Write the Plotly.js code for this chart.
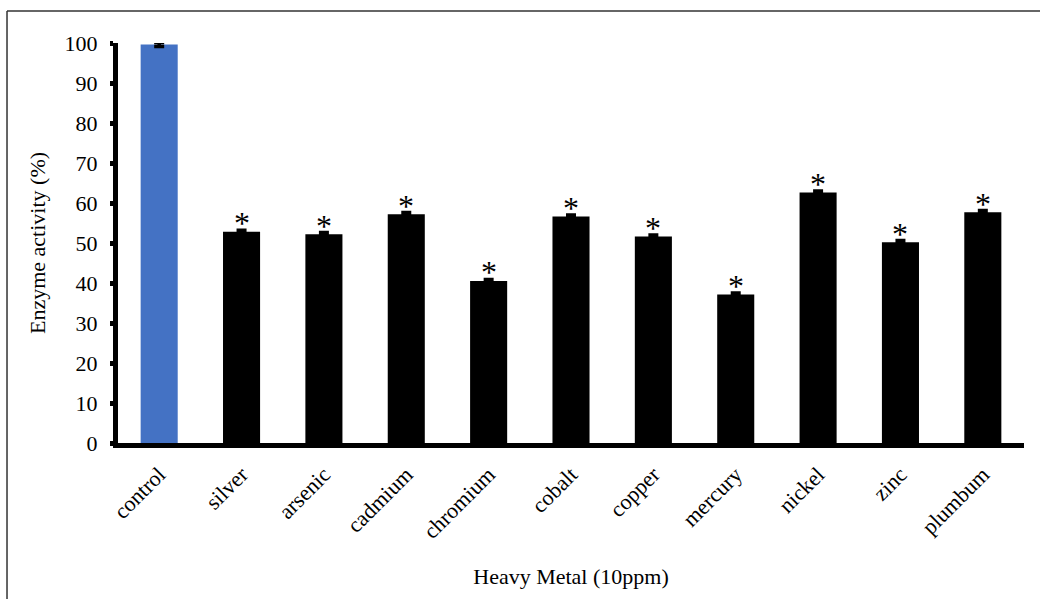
<!DOCTYPE html>
<html>
<head>
<meta charset="utf-8">
<script src="https://cdn.plot.ly/plotly-3.0.1.min.js"></script>
<style>html,body{margin:0;padding:0;background:#fff;}#chart{width:1040px;height:599px;}</style>
</head>
<body>
<div id="chart"></div>
<script>
const categories = ["control","silver","arsenic","cadmium","chromium","cobalt","copper","mercury","nickel","zinc","plumbum"];
const activity = [99.6, 52.8, 52.2, 57.2, 40.5, 56.6, 51.6, 37.1, 62.6, 50.2, 57.7];
const errors = [0.5, 0.4, 0.4, 0.4, 0.4, 0.4, 0.4, 0.4, 0.4, 0.4, 0.4];
const significant = ["", "*", "*", "*", "*", "*", "*", "*", "*", "*", "*"];
const yTicks = [0,10,20,30,40,50,60,70,80,90,100];

const barColors = categories.map((c,i) => i === 0 ? "#4472C4" : "#000000");
const font = "Liberation Serif, Times New Roman, serif";

const bars = {
  type: "bar",
  x: categories,
  y: activity,
  marker: {color: barColors, line: {width: 0}},
  error_y: {type: "data", array: errors, visible: true, color: "#000", thickness: 3.5, width: 5},
  cliponaxis: false,
  hoverinfo: "x+y"
};

const annotations = categories.map((c,i) => ({
  x: c, y: activity[i] + errors[i], xref: "x", yref: "y",
  text: significant[i], showarrow: false,
  font: {family: font, size: 32, color: "#000"},
  yanchor: "bottom", yshift: -13
})).filter(a => a.text !== "");

const layout = {
  width: 1040, height: 599,
  margin: {l: 118, r: 16, t: 43, b: 156},
  paper_bgcolor: "#fff", plot_bgcolor: "#fff",
  bargap: 0.55,
  showlegend: false,
  font: {family: font, color: "#000", size: 22},
  xaxis: {
    tickangle: -45,
    tickfont: {family: font, size: 22, color: "#000"},
    showline: true, linecolor: "#000", linewidth: 5,
    ticks: "", showgrid: false, zeroline: false,
    ticklabelstandoff: 5,
    title: {text: "Heavy Metal (10ppm)", font: {family: font, size: 22, color: "#000"}, standoff: 27}
  },
  yaxis: {
    range: [0, 100],
    tickvals: yTicks,
    tickfont: {family: font, size: 22, color: "#000"},
    showline: true, linecolor: "#000", linewidth: 5,
    ticks: "outside", ticklen: 3, tickwidth: 5, tickcolor: "#000",
    ticklabelstandoff: 8,
    showgrid: false, zeroline: false,
    title: {text: "Enzyme activity (%)", font: {family: font, size: 22, color: "#000"}, standoff: 14}
  },
  annotations: annotations,
  shapes: [
    {type: "line", xref: "paper", yref: "paper", x0: -0.1225, x1: 1.1, y0: 1.08, y1: 1.08, line: {color: "#333", width: 1.5}},
    {type: "line", xref: "paper", yref: "paper", x0: -0.1225, x1: -0.1225, y0: 1.08, y1: -0.5, line: {color: "#333", width: 1.5}}
  ]
};

Plotly.newPlot("chart", [bars], layout, {displayModeBar: false, staticPlot: true});
</script>
</body>
</html>
